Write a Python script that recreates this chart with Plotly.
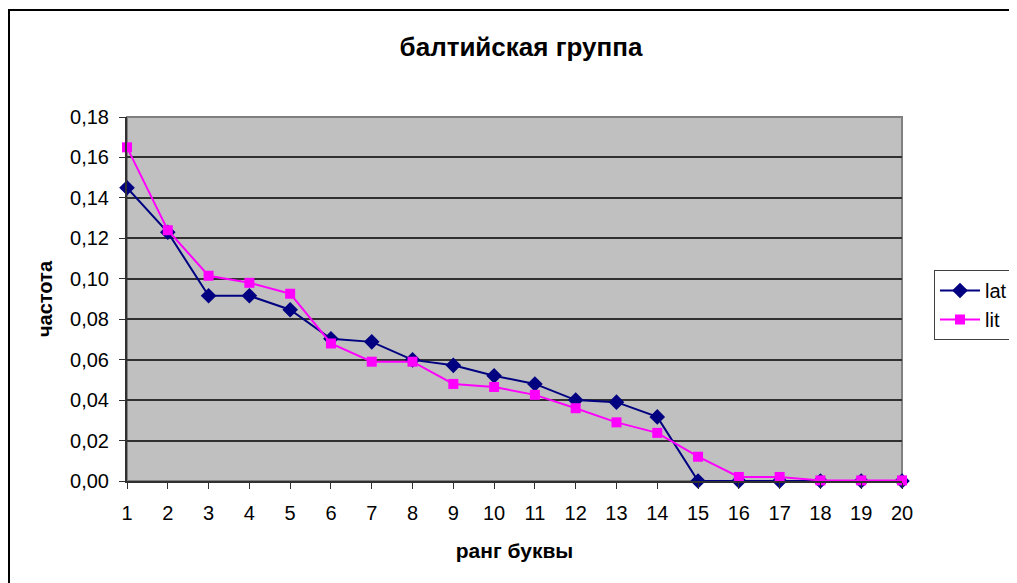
import plotly.graph_objects as go

ranks = list(range(1, 21))
lat = [0.145, 0.123, 0.0916, 0.0916, 0.0847, 0.0703, 0.0688, 0.0599, 0.0572, 0.052,
       0.048, 0.040, 0.039, 0.0317, 0.0, 0.0, 0.0, 0.0, 0.0, 0.0]
lit = [0.165, 0.124, 0.1015, 0.098, 0.0926, 0.068, 0.059, 0.059, 0.048, 0.0465,
       0.0426, 0.036, 0.029, 0.0238, 0.012, 0.002, 0.002, 0.0003, 0.0003, 0.0003]
y_ticks = [0, 0.02, 0.04, 0.06, 0.08, 0.10, 0.12, 0.14, 0.16, 0.18]

FONT = "Liberation Sans, Arial, sans-serif"

# page has an 8px body offset; margins compensate
L, T, R, B = 119, 109, 123, 110
PW = 1017 - L - R
PH = 583 - T - B

fig = go.Figure()
fig.add_trace(go.Scatter(
    x=ranks, y=lat, name="lat", mode="lines+markers",
    line=dict(color="#000080", width=2),
    marker=dict(symbol="diamond", size=12, color="#000080"),
    cliponaxis=False,
))
fig.add_trace(go.Scatter(
    x=ranks, y=lit, name="lit", mode="lines+markers",
    line=dict(color="#FF00FF", width=2),
    marker=dict(symbol="square", size=10, color="#FF00FF"),
    cliponaxis=False,
))

fig.update_layout(
    width=1017, height=583,
    margin=dict(l=L, r=R, t=T, b=B),
    paper_bgcolor="white",
    plot_bgcolor="#C0C0C0",
    separators=", ",
    font=dict(family=FONT, size=20, color="black"),
    title=dict(text="<b>балтийская группа</b>", x=(521 - 8) / 1017, xanchor="center",
               y=1 - 39 / 583, yanchor="middle", font=dict(size=26)),
    showlegend=True,
    legend=dict(x=(934 - 127) / PW, xanchor="left", y=(473 - 297) / PH, yanchor="middle",
                bordercolor="#404040", borderwidth=1, bgcolor="white",
                font=dict(size=20), itemwidth=40, tracegroupgap=0),
)
fig.update_xaxes(
    range=[1, 20], tickmode="array", tickvals=ranks, ticktext=[str(r) for r in ranks],
    showgrid=False, zeroline=False, showline=True, linecolor="#303030", linewidth=2,
    ticks="outside", ticklen=6, tickcolor="#303030", ticklabelstandoff=7,
    title=dict(text="<b>ранг буквы</b>", standoff=20, font=dict(size=21)),
    tickfont=dict(size=20),
)
fig.update_yaxes(
    range=[0, 0.18], tickmode="array", tickvals=y_ticks, tickformat=".2f",
    showgrid=True, gridcolor="#303030", gridwidth=1.5, zeroline=False,
    showline=True, linecolor="#303030", linewidth=2,
    ticks="outside", ticklen=6, tickcolor="#303030", ticklabelstandoff=6,
    title=dict(text="<b>частота</b>", standoff=12, font=dict(size=20)),
    tickfont=dict(size=20),
)
# plot-area grey border
fig.add_shape(type="rect", xref="paper", yref="paper", x0=0, y0=0, x1=1, y1=1,
              line=dict(color="#808080", width=2), layer="below")
# chart outer border
fig.add_shape(type="rect", xref="paper", yref="paper",
              x0=(1 - L) / PW, y0=-0.4, x1=1.3, y1=(PH + T - 2) / PH,
              line=dict(color="black", width=2))

fig.write_html("out.html")
